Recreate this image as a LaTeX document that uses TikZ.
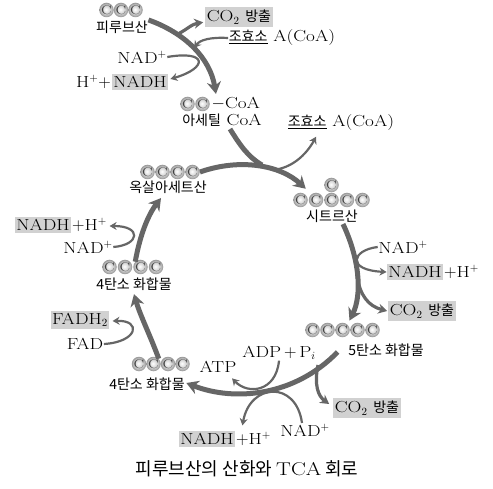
\documentclass[tikz,border=0pt]{standalone}
\usepackage{fontspec}
\setmainfont{Latin Modern Roman}[FakeStretch=1.2]
\newfontfamily\kr{Noto Sans CJK KR}
\usetikzlibrary{arrows.meta,calc,positioning}
\definecolor{arrgray}{gray}{0.4}
\definecolor{boxgray}{gray}{0.82}
\pgfdeclareradialshading{cshade}{\pgfpoint{-2bp}{2bp}}{color(0bp)=(white); color(10bp)=(gray!25); color(18bp)=(gray!50); color(25bp)=(gray!85); color(50bp)=(gray!85)}
\newcommand{\hg}[1]{{\kr\fontsize{14}{16}\selectfont #1}}
\tikzset{
  cball/.style={circle, inner sep=0pt, minimum size=14.5pt, shading=cshade, text=black!75, font=\fontsize{12.5}{13}\selectfont},
  lbl/.style={inner sep=0.5pt, font=\fontsize{16}{18}\selectfont},
  gbox/.style={lbl, fill=boxgray, inner xsep=1.5pt, inner ysep=2.5pt},
  mainline/.style={draw=arrgray, line width=5pt},
  mainarr/.style={mainline, -{Stealth[length=12pt,width=14pt]}},
  co2arr/.style={draw=arrgray, line width=3.2pt, -{Stealth[length=9pt,width=10pt]}},
  sidearr/.style={draw=arrgray, line width=2.2pt, -{Stealth[length=7pt,width=8pt]}}
}
\begin{document}
\begin{tikzpicture}[x=1pt,y=-1pt]
\useasboundingbox (0,0) rectangle (493,489);

\foreach \i in {1,2,3} \node[cball] (py\i) at ({92+14.5*\i},10) {C};
\node[lbl] (pyr) at (122,27) {\hg{피루브산}};
\node[gbox] (co2a) at (239,17) {CO$_2$ \hg{방출}};
\node[lbl] (coa1) at (282,38) {\underline{\hg{조효소}} A(CoA)};
\node[lbl] (nad1) at (142,57) {NAD$^+$};
\node[gbox] (nadh1) at (140,82) {NADH};
\node[lbl, left=0pt of nadh1] (h1) {H$^{+}+$};

\foreach \i in {1,2} \node[cball] (ac\i) at ({172.5+15*\i},104) {C};
\node[lbl, right=1pt of ac2] (acoa) {$-$CoA};
\node[lbl] (aclbl) at (222,120) {\hg{아세틸} CoA};
\node[lbl] (coa2) at (341,123) {\underline{\hg{조효소}} A(CoA)};

\foreach \i in {1,...,4} \node[cball] (ox\i) at ({132.5+15*\i},172) {C};
\node[lbl] (oxlbl) at (168,187) {\hg{옥살아세트산}};

\node[cball] (ci6) at (331.5,185) {C};
\foreach \i in {1,...,5} \node[cball] (ci\i) at ({285+15.5*\i},200) {C};
\node[lbl] (cilbl) at (332,216) {\hg{시트르산}};

\node[lbl] (nad2) at (403,247) {NAD$^+$};
\node[gbox] (nadh2) at (415,272) {NADH};
\node[lbl, right=0pt of nadh2] (h2) {$+$H$^+$};
\node[gbox] (co2b) at (422,311) {CO$_2$ \hg{방출}};

\foreach \i in {1,...,5} \node[cball] (fc\i) at ({297.5+15*\i},330) {C};
\node[lbl] (fclbl) at (386,350) {\hg{5탄소 화합물}};
\node[lbl] (adp) at (279,353) {ADP$\,+\,$P$_i$};
\node[lbl] (atp) at (218,367) {ATP};
\node[gbox] (co2c) at (367,408) {CO$_2$ \hg{방출}};
\node[lbl] (nad3) at (305,430) {NAD$^+$};
\node[gbox] (nadh3) at (207,439) {NADH};
\node[lbl, right=0pt of nadh3] (h3) {$+$H$^+$};

\foreach \i in {1,...,4} \node[cball] (bc\i) at ({124.5+14.5*\i},364) {C};
\node[lbl] (bclbl) at (147,384) {\hg{4탄소 화합물}};
\node[gbox] (fadh2) at (80,320) {FADH$_2$};
\node[lbl] (fad) at (85,344) {FAD};

\foreach \i in {1,...,4} \node[cball] (mc\i) at ({94+15.5*\i},267) {C};
\node[lbl] (mclbl) at (134,284) {\hg{4탄소 화합물}};
\node[lbl] (nad4) at (88,247) {NAD$^+$};
\node[gbox] (nadh4) at (43,225) {NADH};
\node[lbl, right=0pt of nadh4] (h4) {$+$H$^+$};

\node[inner sep=0pt] (title) at (247,469) {{\kr\fontsize{18}{20}\selectfont 피루브산의 산화와} {\fontsize{18.5}{20}\selectfont TCA} {\kr\fontsize{18}{20}\selectfont 회로}};

\coordinate (j1) at (178,34);
\coordinate (j2) at (194,48);
\coordinate (j3) at (262,165);
\coordinate (j4) at (273,170);
\coordinate (j6) at (357,276);
\coordinate (j7) at (318,365);

\draw[co2arr] (j1) .. controls (186,30) and (192,24) .. ($(co2a.south west)+(-2,-4.5)$);
\draw[sidearr] (coa1.west) .. controls (210,37) and (200,40) .. (j2);
\draw[sidearr] (nad1.east) .. controls (208,50) and (208,68) .. ($(nadh1.east)+(2,-3)$);
\draw[mainarr] (pyr.north east) .. controls (185,33) and (210,58) .. ($(acoa.north west)+(5,-3)$);

\draw[sidearr] (j4) .. controls (292,168) and (306,155) .. ($(coa2.south west)+(29,5)$);
\draw[mainline] ($(aclbl.south)+(8,2)$) .. controls (240,145) and (248,157) .. (j3);
\draw[mainarr] (ox4.east) .. controls (240,158) and (280,165) .. ($(ci1.north east)+(0,-6)$);

\draw[sidearr] (nad2.west) .. controls (352,250) and (346,270) .. (nadh2.west);
\draw[co2arr] (j6) .. controls (360,295) and (368,306) .. ($(co2b.west)+(-1,0)$);
\draw[mainarr] ($(cilbl.south)+(11,1)$) .. controls (360,260) and (362,295) .. ($(fc3.north)+(7,-2)$);

\draw[co2arr] (j7) .. controls (314,385) and (318,396) .. ($(co2c.west)+(-4,-4)$);
\draw[sidearr] (adp.south) .. controls (276,392) and (248,395) .. ($(atp.south east)+(-5,5)$);
\draw[sidearr] ($(nad3.north)+(-3,0)$) .. controls (296,380) and (250,383) .. ($(h3.north west)+(7,-6)$);
\draw[mainarr] ($(fclbl.west)+(-10,2)$) .. controls (295,396) and (235,402) .. ($(bclbl.east)+(1,-1)$);

\draw[sidearr] (fad.east) .. controls (138,342) and (142,320) .. ($(fadh2.east)+(3,1)$);
\draw[mainarr] (bc2.north east) .. controls (150,335) and (140,315) .. ($(mclbl.south)+(0,3)$);

\draw[sidearr] (nad4.east) .. controls (140,245) and (142,226) .. ($(h4.east)+(2,1)$);
\draw[mainarr] (mc3.north west) .. controls (140,235) and (148,215) .. ($(oxlbl.south)+(-7,4)$);
\end{tikzpicture}
\end{document}
